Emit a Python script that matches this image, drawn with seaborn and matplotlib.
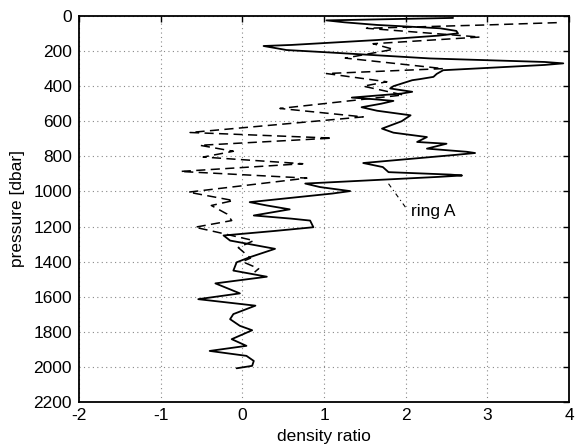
import numpy as np
import pandas as pd
import matplotlib
matplotlib.use("Agg")
import matplotlib.pyplot as plt
import seaborn as sns

# solid profile (density ratio vs pressure)
solid_ratio = [2.58, 1.03, 1.25, 1.65, 2.42, 2.62, 2.64, 2.40, 1.65, 0.60, 0.26, 0.42, 0.54,
               1.00, 2.30, 3.70, 3.93, 3.70, 2.46, 2.38, 2.34, 2.17, 2.08, 1.85, 1.81,
               1.95, 2.08, 1.95, 1.34, 1.60, 1.85, 1.70, 1.46, 1.65, 2.06, 1.95, 1.71,
               1.85, 2.26, 2.14, 2.50, 2.26, 2.75, 2.85, 2.60, 1.48, 1.72, 1.79, 2.55,
               2.69, 2.40, 0.77, 0.95, 1.32, 1.10, 0.09, 0.30, 0.58, 0.14, 0.60, 0.83,
               0.87, 0.40, -0.23, -0.15, 0.40, 0.09, -0.07, -0.11, 0.30, -0.33, -0.03,
               -0.54, 0.16, -0.11, -0.15, -0.03, 0.12, -0.13, 0.05, -0.40, 0.05, 0.14,
               0.12, -0.07]
solid_pres = [11, 25, 36, 51, 70, 85, 99, 112, 137, 165, 171, 184, 194,
              206, 242, 262, 270, 279, 309, 330, 347, 360, 366, 400, 413,
              423, 432, 442, 465, 474, 484, 500, 520, 540, 566, 600, 642,
              665, 690, 718, 728, 756, 774, 781, 792, 838, 861, 890, 904,
              909, 917, 955, 975, 998, 1012, 1061, 1080, 1102, 1137, 1155, 1166,
              1204, 1225, 1251, 1280, 1327, 1375, 1404, 1451, 1486, 1524, 1581,
              1614, 1651, 1699, 1728, 1766, 1791, 1842, 1880, 1909, 1937, 1966,
              1994, 2008]

# dashed profile
dash_ratio = [3.85, 2.99, 1.52, 2.91, 1.60, 1.85, 1.26, 2.46, 1.03, 1.77, 1.48, 1.97,
              0.46, 1.48, -0.64, 1.10, -0.52, -0.11, -0.48, 0.74, -0.76, 0.79, -0.66,
              -0.11, -0.38, -0.19, -0.13, -0.58, -0.31, 0.14, -0.05, 0.10, 0.00, 0.20, 0.15]
dash_pres = [38, 51, 70, 120, 158, 190, 240, 300, 328, 375, 400, 450,
             527, 575, 664, 696, 737, 771, 804, 842, 886, 924, 1004,
             1052, 1080, 1128, 1166, 1204, 1232, 1280, 1320, 1380, 1400, 1440, 1460]

x_ticks = [-2, -1, 0, 1, 2, 3, 4]
y_ticks = list(range(0, 2201, 200))

sns.set_style("white")
plt.rcParams['font.family'] = ['Liberation Sans', 'DejaVu Sans']
plt.rcParams['text.color'] = 'black'
plt.rcParams['axes.labelcolor'] = 'black'

fig = plt.figure(figsize=(5.75, 4.48), dpi=100)
ax = fig.add_axes([0.1374, 0.1027, 0.8522, 0.8616])

df_s = pd.DataFrame({"ratio": solid_ratio, "pressure": solid_pres})
df_d = pd.DataFrame({"ratio": dash_ratio, "pressure": dash_pres})

sns.lineplot(data=df_s, x="ratio", y="pressure", sort=False, estimator=None,
             color="black", lw=1.3, ax=ax)
sns.lineplot(data=df_d, x="ratio", y="pressure", sort=False, estimator=None,
             color="black", lw=1.1, ax=ax)
ax.lines[-1].set_dashes((6, 3.5))

ax.set_xlim(-2, 4)
ax.set_ylim(2200, 0)
ax.set_xticks(x_ticks)
ax.set_xticklabels([str(v) for v in x_ticks])
ax.set_yticks(y_ticks)
ax.set_yticklabels([str(v) for v in y_ticks])
ax.grid(True, linestyle=(0, (1, 3)), color="#888888", linewidth=0.8)
ax.tick_params(direction="in", top=True, right=True, length=4, width=1,
               labelsize=12.5, colors="black", labelcolor="black")
ax.tick_params(axis="y", pad=5)
ax.tick_params(axis="x", pad=4)
for s in ax.spines.values():
    s.set_linewidth(1.3)
    s.set_color("black")
ax.set_xlabel("density ratio", fontsize=12.5, labelpad=5, color="black")
ax.set_ylabel("pressure [dbar]", fontsize=12.5, labelpad=6, color="black")

# annotation
ax.plot([1.79, 2.01], [956, 1098], color="black", lw=0.8, linestyle=(0, (4, 3, 1, 3)))
ax.text(2.06, 1114, "ring A", fontsize=12.5, va="center", ha="left", color="black")

fig.savefig("out.png", dpi=100)
